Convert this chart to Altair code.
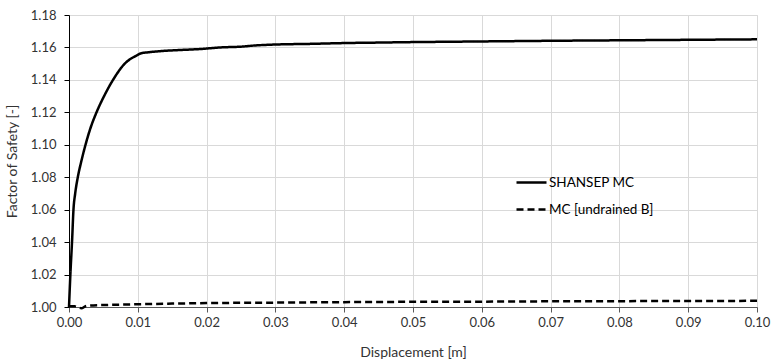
import altair as alt
import pandas as pd

# Factor of safety vs. displacement for two soil models
shansep_disp = [0.0, 0.0002, 0.00045, 0.00065, 0.0009, 0.00128, 0.0018, 0.0024,
                0.0031, 0.004, 0.0051, 0.0064, 0.0081, 0.0098, 0.0104, 0.0115,
                0.0132, 0.016, 0.019, 0.022, 0.025, 0.027, 0.03, 0.035, 0.04,
                0.045, 0.05, 0.055, 0.06, 0.07, 0.08, 0.09, 0.1]
shansep_fos = [1.000, 1.020, 1.041, 1.060, 1.070, 1.080, 1.090, 1.100,
               1.110, 1.120, 1.130, 1.140, 1.150, 1.155, 1.1563, 1.157,
               1.1577, 1.1584, 1.159, 1.160, 1.1605, 1.1612, 1.1618, 1.1622, 1.1627,
               1.1630, 1.1633, 1.1635, 1.1637, 1.1641, 1.1644, 1.1647, 1.1650]

mc_disp = [0.0, 0.0008, 0.0014, 0.0018, 0.0024, 0.003, 0.005, 0.01, 0.015, 0.02,
           0.03, 0.04, 0.05, 0.06, 0.07, 0.08, 0.09, 0.1]
mc_fos = [1.0005, 1.0004, 0.9997, 0.9992, 1.0005, 1.0009, 1.0012, 1.0017, 1.0021,
          1.0024, 1.0027, 1.003, 1.0032, 1.0033, 1.0035, 1.0036, 1.0037, 1.0038]

series_names = ["SHANSEP MC", "MC [undrained B]"]
x_ticks = [0.0, 0.01, 0.02, 0.03, 0.04, 0.05, 0.06, 0.07, 0.08, 0.09, 0.1]
y_ticks = [1.00, 1.02, 1.04, 1.06, 1.08, 1.10, 1.12, 1.14, 1.16, 1.18]

rows = []
for i, (d, v) in enumerate(zip(shansep_disp, shansep_fos)):
    rows.append({"disp": d, "fos": v, "series": series_names[0], "order": i})
for i, (d, v) in enumerate(zip(mc_disp, mc_fos)):
    rows.append({"disp": d, "fos": v, "series": series_names[1], "order": i})
df = pd.DataFrame(rows)

FONT = "Lato"
TEXT = "#333333"
FS = 13
TFS = 14

chart = alt.Chart(df).mark_line(
    color="black", strokeWidth=2.5, interpolate="monotone", clip=False
).encode(
    x=alt.X("disp:Q",
            scale=alt.Scale(domain=[0, 0.1], nice=False, zero=False),
            axis=alt.Axis(title="Displacement [m]", values=x_ticks, format=".2f",
                          grid=True, gridColor="#d9d9d9", domainColor="#595959",
                          tickColor="#595959", tickSize=5, labelPadding=4,
                          labelFlush=False, titlePadding=16,
                          labelFont=FONT, titleFont=FONT, labelFontSize=FS,
                          titleFontSize=TFS, titleFontWeight="normal",
                          labelColor=TEXT, titleColor=TEXT)),
    y=alt.Y("fos:Q",
            scale=alt.Scale(domain=[1.0, 1.18], nice=False, zero=False),
            axis=alt.Axis(title="Factor of Safety [-]", values=y_ticks, format=".2f",
                          grid=True, gridColor="#d9d9d9", domainColor="#000000",
                          tickColor="#000000", tickSize=5, labelPadding=8,
                          labelFlush=False, titlePadding=11,
                          labelFont=FONT, titleFont=FONT, labelFontSize=FS,
                          titleFontSize=TFS, titleFontWeight="normal",
                          labelColor=TEXT, titleColor=TEXT)),
    strokeDash=alt.StrokeDash(
        "series:N",
        scale=alt.Scale(domain=series_names, range=[[1, 0], [7, 4]]),
        legend=alt.Legend(title=None, orient="none", legendX=446, legendY=151,
                          symbolType="stroke", symbolSize=900, symbolStrokeWidth=2.5,
                          symbolStrokeColor="black", labelFontSize=13.5,
                          labelFont=FONT, labelColor="#000000", rowPadding=4,
                          labelOffset=1)),
    order="order:Q",
).properties(
    width=688, height=292,
    padding={"left": 69, "top": 15, "right": 17, "bottom": 55},
    autosize=alt.AutoSizeParams(type="none"),
).configure_view(
    stroke="#d9d9d9"
).configure(background="white")

chart.save("out.html", embed_options={"renderer": "svg", "actions": False})
